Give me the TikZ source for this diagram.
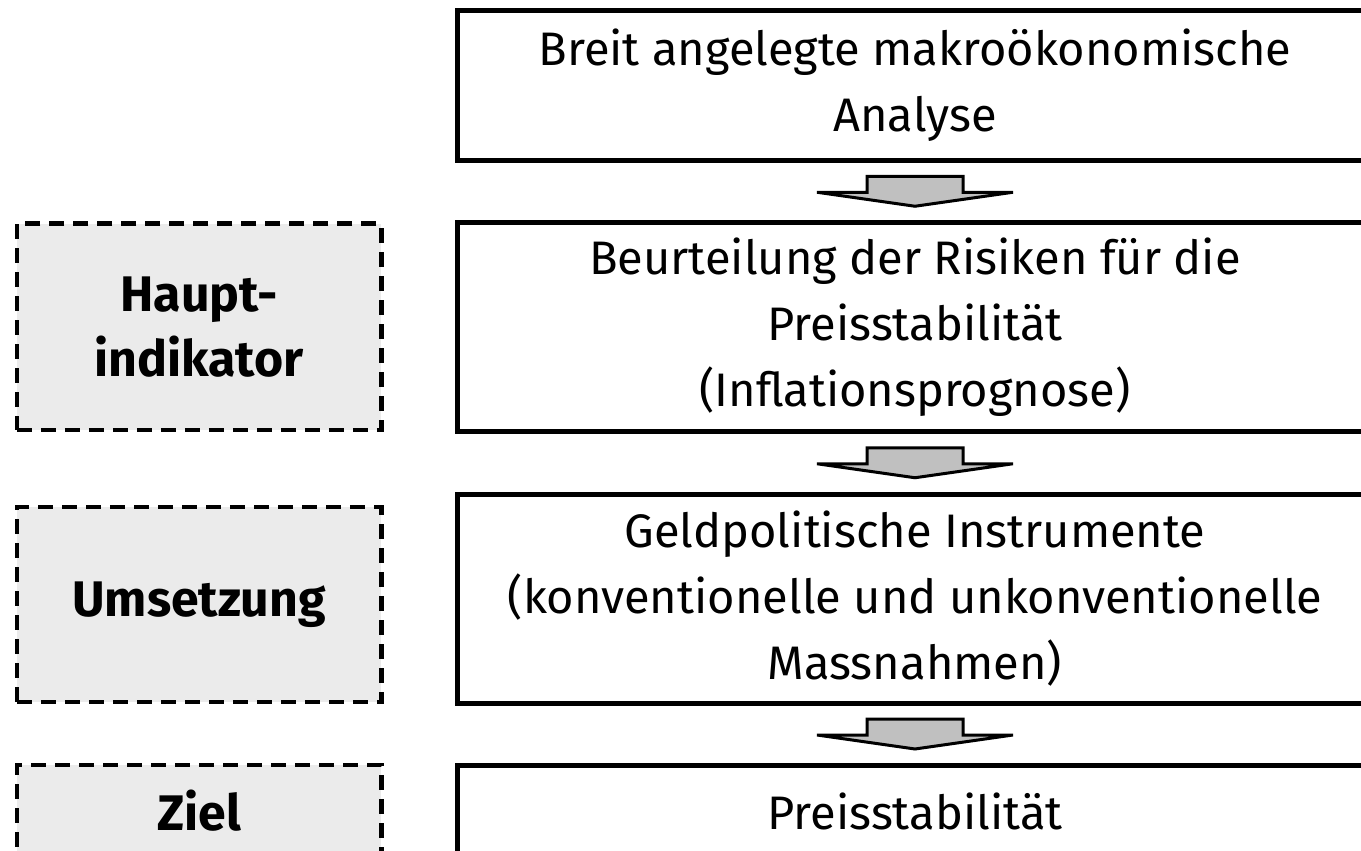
\documentclass[tikz,border=0pt]{standalone}
\usepackage{fontspec}
\setmainfont{Fira Sans}
\usetikzlibrary{calc}
\begin{document}
\begin{tikzpicture}[x=1pt,y=-1pt,
  mainbox/.style={draw=black, line width=5pt, fill=white, minimum width=915pt, align=center,
    font=\fontsize{47}{66}\selectfont, inner sep=0pt},
  sidebox/.style={draw=black, line width=4.5pt, dash pattern=on 15pt off 9pt, fill=sidegray,
    minimum width=364.5pt, align=center, font=\fontsize{50}{65}\selectfont\bfseries, inner sep=0pt},
  blockarrow/.pic={
    \draw[line width=3pt, fill=arrowgray, line join=miter]
      (-48,-15) -- (48,-15) -- (48,1) -- (98,1) -- (0,15) -- (-98,1) -- (-48,1) -- cycle;
  }]
\definecolor{sidegray}{HTML}{EBEBEB}
\definecolor{arrowgray}{HTML}{C0C0C0}
\useasboundingbox (0,0) rectangle (1361,851);
\clip (0,0) rectangle (1361,851);
\fill[white] (0,0) rectangle (1361,851);
% main column
\node[mainbox, minimum height=149.5pt] (b1) at (915,85.25)
  {Breit angelegte makroökonomische\\Analyse};
\node[mainbox, minimum height=209pt] (b2) at (915,327)
  {Beurteilung der Risiken für die\\Preisstabilität\\(Inflationsprognose)};
\node[mainbox, minimum height=209pt] (b3) at (915,598.5)
  {Geldpolitische Instrumente\\(konventionelle und unkonventionelle\\Massnahmen)};
\node[mainbox, minimum height=92pt] (b4) at (915,811)
  {Preisstabilität};
% side labels
\node[sidebox, minimum height=206.5pt] (s1) at (199,326.75) {Haupt-\\indikator};
\node[sidebox, minimum height=195pt] (s2) at (199,604.5) {Umsetzung};
\node[sidebox, minimum height=92pt] (s3) at (199,811) {Ziel};
% connectors
\path ($(b1.south)!0.5!(b2.north)$) pic {blockarrow};
\path ($(b2.south)!0.5!(b3.north)$) pic {blockarrow};
\path ($(b3.south)!0.5!(b4.north)$) pic {blockarrow};
\end{tikzpicture}
\end{document}
